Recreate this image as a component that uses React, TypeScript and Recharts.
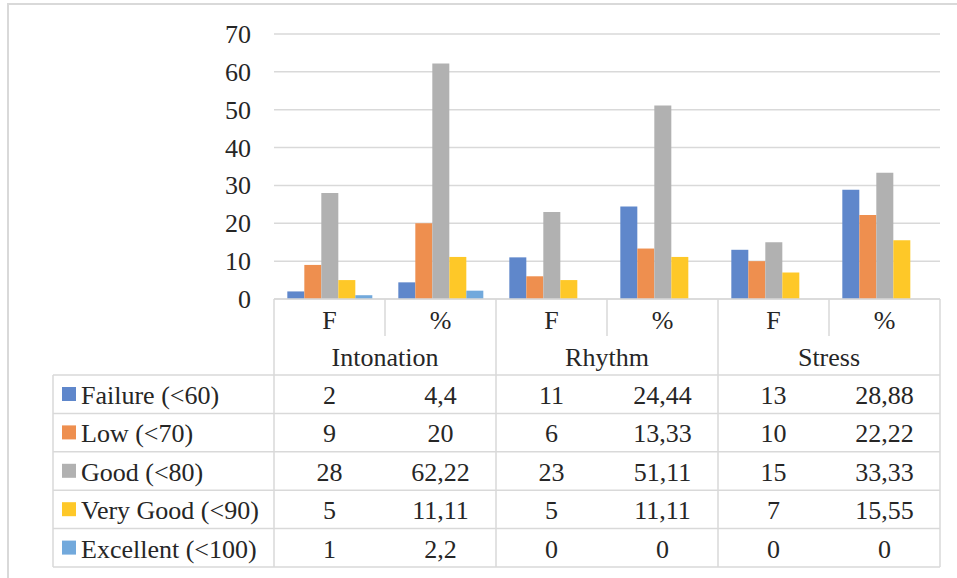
import { Bar, BarChart, CartesianGrid, XAxis, YAxis } from "recharts";

const categories = ["F", "%", "F", "%", "F", "%"];
const groups = ["Intonation", "Rhythm", "Stress"];

const failure = [2, 4.4, 11, 24.44, 13, 28.88];
const low = [9, 20, 6, 13.33, 10, 22.22];
const good = [28, 62.22, 23, 51.11, 15, 33.33];
const veryGood = [5, 11.11, 5, 11.11, 7, 15.55];
const excellent = [1, 2.2, 0, 0, 0, 0];

const yTicks = [0, 10, 20, 30, 40, 50, 60, 70];

const series = [
  { key: "failure", name: "Failure (<60)", values: failure, color: "#5f87cb" },
  { key: "low", name: "Low (<70)", values: low, color: "#ee8f4f" },
  { key: "good", name: "Good (<80)", values: good, color: "#b1b1b1" },
  { key: "veryGood", name: "Very Good (<90)", values: veryGood, color: "#fec828" },
  { key: "excellent", name: "Excellent (<100)", values: excellent, color: "#72a9dc" },
];

const data = categories.map((cat, i) => {
  const row: Record<string, string | number> = { cat, idx: i };
  series.forEach((s) => (row[s.key] = s.values[i]));
  return row;
});

const W = 957;
const H = 578;
const PLOT_LEFT = 274;
const PLOT_RIGHT = 940;
const PLOT_TOP = 34;
const PLOT_BOTTOM = 299;
const COL_W = (PLOT_RIGHT - PLOT_LEFT) / categories.length;
const LEGEND_LEFT = 53;
const HEAD_H = 76;
const ROW_H = 38.4;

const FONT = "Liberation Serif";
const TEXT = "#262626";
const LINE = "#d9d9d9";
const textStyle = { fontFamily: FONT, fontSize: 26 };

const fmt = (v: number) => String(v).replace(".", ",");

// each x-axis tick draws its own column of the data table
function TableTick(props: any) {
  const { x, y, index } = props;
  const left = x - COL_W / 2;
  const right = x + COL_W / 2;
  const bottom = y + HEAD_H + ROW_H * series.length;
  const last = index === categories.length - 1;
  const groupEnd = index % 2 === 1;

  return (
    <g>
      <text x={x} y={y + 30} textAnchor="middle" fill={TEXT} fontFamily={FONT} style={textStyle}>
        {categories[index]}
      </text>
      {index % 2 === 0 && (
        <text x={right} y={y + 67} textAnchor="middle" fill={TEXT} fontFamily={FONT} style={textStyle}>
          {groups[index / 2]}
        </text>
      )}
      {index === 0 && (
        <line x1={left} x2={left} y1={y} y2={bottom} stroke={LINE} strokeWidth={1.5} />
      )}
      <line
        x1={right}
        x2={right}
        y1={y}
        y2={groupEnd || last ? bottom : y + 37}
        stroke={LINE}
        strokeWidth={1.5}
      />
      {series.map((s, r) => {
        const top = y + HEAD_H + r * ROW_H;
        return (
          <g key={s.key}>
            <line x1={left} x2={right} y1={top} y2={top} stroke={LINE} strokeWidth={1.5} />
            <text x={x} y={top + 29} textAnchor="middle" fill={TEXT} fontFamily={FONT} style={textStyle}>
              {fmt(s.values[index])}
            </text>
          </g>
        );
      })}
      <line x1={left} x2={right} y1={bottom} y2={bottom} stroke={LINE} strokeWidth={1.5} />
      {index === 0 && (
        <g>
          <line x1={LEGEND_LEFT} x2={LEGEND_LEFT} y1={y + HEAD_H} y2={bottom} stroke={LINE} strokeWidth={1.5} />
          {series.map((s, r) => {
            const top = y + HEAD_H + r * ROW_H;
            return (
              <g key={s.key}>
                <line x1={LEGEND_LEFT} x2={left} y1={top} y2={top} stroke={LINE} strokeWidth={1.5} />
                <rect x={62} y={top + 12} width={14} height={14} fill={s.color} />
                <text x={81} y={top + 29} fill={TEXT} fontFamily={FONT} style={textStyle}>
                  {s.name}
                </text>
              </g>
            );
          })}
          <line x1={LEGEND_LEFT} x2={left} y1={bottom} y2={bottom} stroke={LINE} strokeWidth={1.5} />
        </g>
      )}
    </g>
  );
}

function YTick(props: any) {
  const { x, y, payload } = props;
  return (
    <text x={x} y={y} dy={9} textAnchor="end" fill={TEXT} fontFamily={FONT} style={textStyle}>
      {payload.value}
    </text>
  );
}

export default function App() {
  return (
    <div
      style={{
        position: "absolute",
        left: 0,
        top: 0,
        width: W,
        height: H,
        background: "#fff",
        fontFamily: FONT,
      }}
    >
      <svg width={W} height={H} style={{ position: "absolute", left: 0, top: 0 }}>
        <rect x={8} y={4} width={W + 20} height={H + 20} fill="#fff" stroke={LINE} strokeWidth={2} />
      </svg>
      <div style={{ position: "absolute", left: 0, top: 0 }}>
        <BarChart
          width={W}
          height={H}
          data={data}
          margin={{ top: PLOT_TOP, right: W - PLOT_RIGHT, bottom: 0, left: 0 }}
          barCategoryGap="12%"
          barGap={0}
        >
          <CartesianGrid vertical={false} stroke={LINE} strokeWidth={1.5} />
          <YAxis
            width={PLOT_LEFT}
            domain={[0, 70]}
            ticks={yTicks}
            axisLine={false}
            tickLine={false}
            tickSize={0}
            tickMargin={23}
            tick={<YTick />}
          />
          <XAxis
            dataKey="idx"
            height={H - PLOT_BOTTOM}
            interval={0}
            axisLine={{ stroke: LINE, strokeWidth: 1.5 }}
            tickLine={false}
            tickSize={0}
            tickMargin={0}
            tick={<TableTick />}
          />
          {series.map((s) => (
            <Bar key={s.key} dataKey={s.key} name={s.name} fill={s.color} isAnimationActive={false} />
          ))}
        </BarChart>
      </div>
    </div>
  );
}
